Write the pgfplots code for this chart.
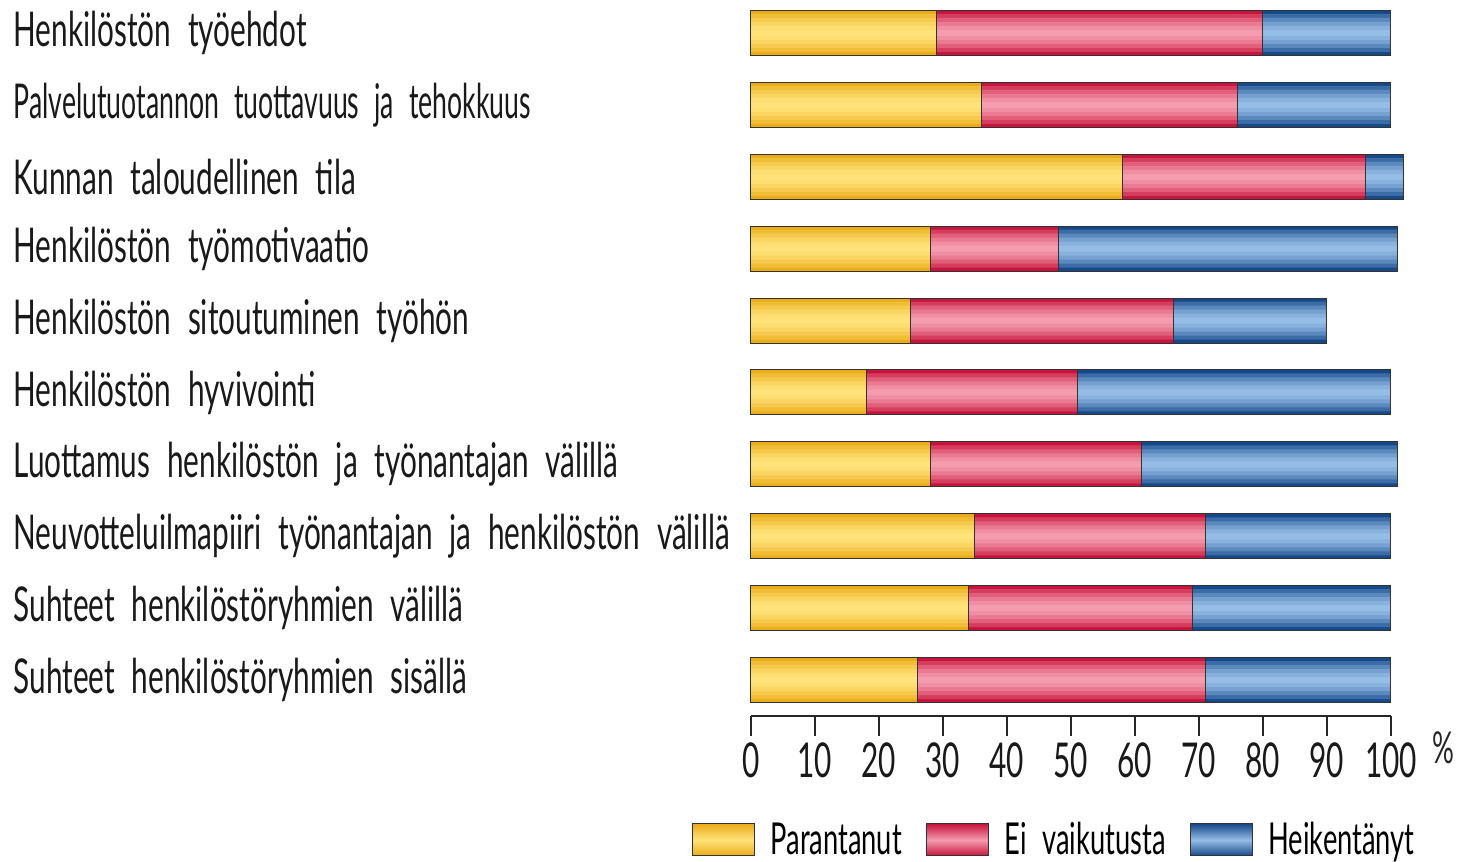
\documentclass[border=0pt]{standalone}
\usepackage{fontspec}
\setmainfont{Lato}[FakeStretch=0.62, WordSpace=2.2]
\usepackage{graphicx}
\usepackage{pgfplots}
\usepackage{pgfplotstable}
\pgfplotsset{compat=1.18}
\definecolor{yedge}{HTML}{EBAC1A}
\definecolor{ymid}{HTML}{FFE37A}
\definecolor{redge}{HTML}{C8143C}
\definecolor{rmid}{HTML}{F59CAE}
\definecolor{bedge}{HTML}{16498A}
\definecolor{bmid}{HTML}{96BDE6}
\pgfplotstableread{
idx y yr tot
0 29 80 100
1 36 76 100
2 58 96 102
3 28 48 101
4 25 66 90
5 18 51 100
6 28 61 101
7 35 71 100
8 34 69 100
9 26 71 100
}\data
\newcommand\layers[3]{%
\addplot[forget plot, bar shift=0pt, draw=none, fill=#2, bar width=22.5pt] table[x=#1,y=idx]{\data};
\addplot[forget plot, bar shift=0pt, draw=none, fill=#3!30!#2, bar width=19pt] table[x=#1,y=idx]{\data};
\addplot[forget plot, bar shift=0pt, draw=none, fill=#3!55!#2, bar width=15pt] table[x=#1,y=idx]{\data};
\addplot[forget plot, bar shift=0pt, draw=none, fill=#3!75!#2, bar width=11pt] table[x=#1,y=idx]{\data};
\addplot[forget plot, bar shift=0pt, draw=none, fill=#3!90!#2, bar width=7pt] table[x=#1,y=idx]{\data};
\addplot[forget plot, bar shift=0pt, draw=none, fill=#3, bar width=3pt] table[x=#1,y=idx]{\data};
}
\begin{document}
\begin{tikzpicture}
\begin{axis}[
  name=ax,
  xbar, bar shift=0pt,
  scale only axis,
  width=320pt, height=359.5pt,
  xmin=0, xmax=100, ymin=-0.5, ymax=9.5, y dir=reverse,
  enlargelimits=false, clip=false,
  bar width=22.5pt,
  axis lines*=left,
  y axis line style={draw=none},
  ytick style={draw=none},
  x axis line style={line width=0.6pt, color=black!85},
  xtick style={line width=0.6pt, color=black!85},
  tick align=outside, major tick length=10pt,
  xtick={0,10,...,100},
  ytick={0,...,9},
  yticklabels={Henkilöstön työehdot, {\scalebox{0.895}[1]{Palvelutuotannon tuottavuus ja tehokkuus}}, Kunnan taloudellinen tila, Henkilöstön työmotivaatio, Henkilöstön sitoutuminen työhön, Henkilöstön hyvivointi, Luottamus henkilöstön ja työnantajan välillä, Neuvotteluilmapiiri työnantajan ja henkilöstön välillä, Suhteet henkilöstöryhmien välillä, Suhteet henkilöstöryhmien sisällä},
  /pgf/number format/assume math mode=true,
  every tick label/.append style={font=\fontsize{24}{28}\selectfont, text=black!90},
  yticklabel style={inner sep=0pt, text width=358.5pt, align=flush left},
  legend columns=3,
  legend style={draw=none, font=\fontsize{22}{26}\selectfont, at={(0.475,-0.136)}, anchor=north,
    /tikz/every odd column/.append style={column sep=6pt},
    /tikz/every even column/.append style={column sep=10pt}},
  legend image code/.code={\draw[#1] (0pt,-8pt) rectangle (31pt,8pt);},
]
\layers{tot}{bedge}{bmid}
\layers{yr}{redge}{rmid}
\layers{y}{yedge}{ymid}
\addplot[forget plot, bar shift=0pt, draw=black!80, line width=0.5pt, fill=none] table[x=tot,y=idx]{\data};
\addplot[forget plot, bar shift=0pt, draw=black!80, line width=0.5pt, fill=none] table[x=yr,y=idx]{\data};
\addplot[forget plot, bar shift=0pt, draw=black!80, line width=0.5pt, fill=none] table[x=y,y=idx]{\data};
\addlegendimage{draw=black!80, line width=0.5pt, top color=yedge, bottom color=yedge, middle color=ymid}
\addlegendimage{draw=black!80, line width=0.5pt, top color=redge, bottom color=redge, middle color=rmid}
\addlegendimage{draw=black!80, line width=0.5pt, top color=bedge, bottom color=bedge, middle color=bmid}
\legend{Parantanut, Ei vaikutusta, Heikentänyt}
\node[font=\fontsize{22}{24}\selectfont, text=black!85] at (axis cs:100,9.5) [xshift=26pt, yshift=-16pt] {\%};
\end{axis}
\pgfresetboundingbox
\path (ax.south west) ++(-375.5pt,-73pt) rectangle ++(732pt,431pt);
\end{tikzpicture}
\end{document}
